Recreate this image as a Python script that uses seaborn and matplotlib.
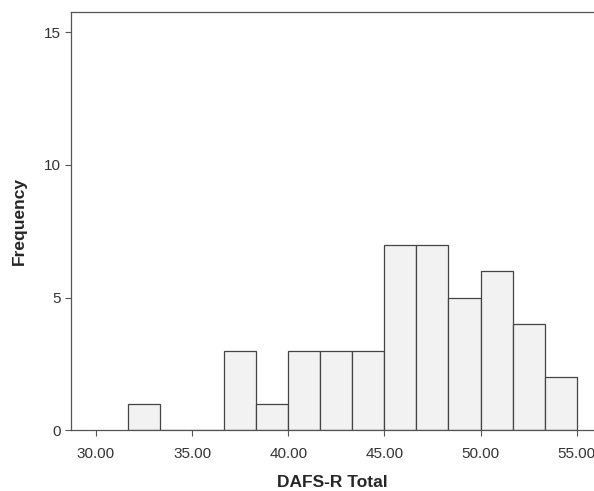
import numpy as np
import pandas as pd
import matplotlib
matplotlib.use("Agg")
import matplotlib.pyplot as plt
import seaborn as sns

# bin edges / counts
bin_edges = [31.667, 33.333, 35.0, 36.667, 38.333, 40.0, 41.667, 43.333,
             45.0, 46.667, 48.333, 50.0, 51.667, 53.333, 55.0]
counts = [1, 0, 0, 3, 1, 3, 3, 3, 7, 7, 5, 6, 4, 2]
x_ticks = [30, 35, 40, 45, 50, 55]
y_ticks = [0, 5, 10, 15]

centers = [(a + b) / 2 for a, b in zip(bin_edges[:-1], bin_edges[1:])]
df = pd.DataFrame({"DAFS-R Total": centers, "count": counts})

sns.set_theme(style="white")
plt.rcParams["font.family"] = ["Liberation Sans", "DejaVu Sans"]

fig = plt.figure(figsize=(5.94, 4.91), dpi=100)
ax = fig.add_axes([0.1195, 0.124, 0.8805, 0.8516])

sns.histplot(
    data=df,
    x="DAFS-R Total",
    weights="count",
    bins=bin_edges,
    color="#f2f2f2",
    edgecolor="#444444",
    linewidth=0.9,
    alpha=1.0,
    ax=ax
)

ax.set_xlim(28.7, 55.9)
ax.set_ylim(0, 15.77)
ax.set_xticks(x_ticks)
ax.set_xticklabels([f"{v:.2f}" for v in x_ticks])
ax.set_yticks(y_ticks)

ax.tick_params(axis="both", direction="out", length=4, width=0.8,
               color="#555555", labelsize=11, labelcolor="#333333",
               bottom=True, left=True)
ax.tick_params(axis="x", pad=8)

for side in ["left", "top", "bottom"]:
    ax.spines[side].set_color("#555555")
    ax.spines[side].set_linewidth(0.9)
ax.spines["right"].set_visible(False)

ax.set_xlabel("DAFS-R Total", fontsize=12.5, fontweight="bold", labelpad=10)
ax.set_ylabel("Frequency", fontsize=12.5, fontweight="bold", labelpad=12)

fig.savefig("out.png", dpi=100)
plt.close(fig)
